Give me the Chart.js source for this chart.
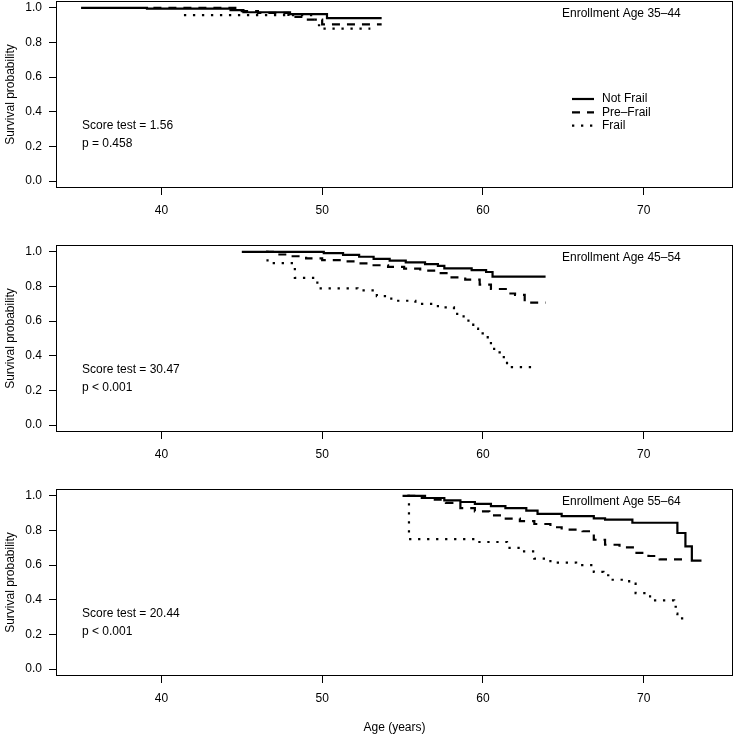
<!DOCTYPE html>
<html><head><meta charset="utf-8">
<script src="https://cdn.jsdelivr.net/npm/chart.js@4.4.0/dist/chart.umd.min.js"></script>
<style>
html,body{margin:0;padding:0;background:#fff;}
#wrap{position:relative;width:734px;height:735px;overflow:hidden;background:#fff;}
canvas{position:absolute;left:0;}
</style></head><body>
<div id="wrap">
<canvas id="c1" width="734" height="244" style="top:0px;width:734px;height:244px"></canvas>
<canvas id="c2" width="734" height="244" style="top:244px;width:734px;height:244px"></canvas>
<canvas id="c3" width="734" height="247" style="top:488px;width:734px;height:247px"></canvas>
</div>
<script>
// ---------- data ----------
const seriesLabels = ['Not Frail', 'Pre\u2013Frail', 'Frail'];
const panelLabels = ['Enrollment Age 35\u201344', 'Enrollment Age 45\u201354', 'Enrollment Age 55\u201364'];
const scoreTexts = ['Score test = 1.56', 'Score test = 30.47', 'Score test = 20.44'];
const pTexts = ['p = 0.458', 'p < 0.001', 'p < 0.001'];
const xTickValues = [40, 50, 60, 70];
const yTickValues = [0, 0.2, 0.4, 0.6, 0.8, 1.0];
const xRange = [33.44, 75.56];
const yRange = [-0.04, 1.04];

// [age, survival] — Kaplan–Meier steps
const notFrail1 = [[35,1],[39.1,0.996],[44.3,0.987],[45.1,0.975],[48.0,0.964],[50.3,0.941],[53.7,0.941]];
const preFrail1 = [[39.5,1],[45.0,0.981],[46.0,0.971],[47.9,0.948],[48.7,0.933],[50.0,0.905],[53.7,0.905]];
const frail1    = [[41.4,0.958],[49.6,0.90],[50.0,0.88],[53.0,0.88]];

const notFrail2 = [[45,1],[50.1,0.993],[51.3,0.983],[52.3,0.972],[53.2,0.96],[54.2,0.95],[55.2,0.94],[56.4,0.93],[57.2,0.92],[57.6,0.905],[59.3,0.895],[60.2,0.884],[60.6,0.857],[63.9,0.857]];
const preFrail2 = [[46.5,1],[47.0,0.985],[48.0,0.975],[49.0,0.963],[50.0,0.953],[51.2,0.946],[52.1,0.934],[53.2,0.923],[54.1,0.914],[55.1,0.903],[56.1,0.892],[57.1,0.877],[57.9,0.853],[58.9,0.84],[59.8,0.811],[60.5,0.786],[61.6,0.76],[62.0,0.752],[62.6,0.707],[63.9,0.707]];
const frail2    = [[46.5,1],[46.6,0.935],[48.3,0.85],[49.7,0.79],[52.2,0.778],[53.4,0.745],[54.3,0.718],[55.8,0.70],[57.2,0.68],[58.2,0.662],[58.4,0.628],[58.8,0.618],[59.1,0.59],[59.4,0.557],[59.7,0.53],[60.3,0.493],[60.5,0.454],[60.7,0.42],[61.3,0.377],[61.5,0.335],[63.2,0.335]];

const notFrail3 = [[55,1],[56.4,0.988],[57.6,0.974],[58.6,0.965],[59.5,0.954],[60.5,0.941],[61.4,0.93],[62.7,0.915],[63.4,0.896],[64.9,0.883],[66.9,0.87],[67.6,0.863],[69.3,0.845],[72.1,0.786],[72.6,0.709],[73.0,0.626],[73.6,0.626]];
const preFrail3 = [[55.3,1],[56.2,0.988],[56.8,0.979],[57.7,0.96],[58.6,0.93],[59.5,0.911],[60.4,0.888],[61.3,0.869],[62.3,0.854],[63.2,0.838],[64.2,0.819],[64.9,0.805],[66.2,0.796],[66.9,0.747],[67.6,0.718],[68.5,0.703],[69.4,0.671],[70.3,0.653],[71.0,0.634],[72.8,0.634]];
const frail3    = [[55.3,1],[55.4,0.75],[59.7,0.734],[61.5,0.70],[62.3,0.68],[63.2,0.638],[64.2,0.615],[65.8,0.60],[66.9,0.561],[67.5,0.542],[67.8,0.516],[69.1,0.493],[69.5,0.439],[70.4,0.397],[71.9,0.36],[72.0,0.32],[72.1,0.293],[72.8,0.293]];

// ---------- style ----------
const FONT = '"Liberation Sans", Arial, Helvetica, sans-serif';
const dashes = [[], [8, 7], [2.3, 6.7]];
const LW = 2.2;

Chart.defaults.font.family = FONT;
Chart.defaults.font.size = 12;
Chart.defaults.color = '#000';

const decor = {
  id: 'panelDecor',
  afterDraw(chart, args, o) {
    const ctx = chart.ctx, a = chart.chartArea;
    ctx.save();
    ctx.strokeStyle = '#000'; ctx.lineWidth = 1; ctx.setLineDash([]);
    ctx.strokeRect(Math.round(a.left) + 0.5, Math.round(a.top) + 0.5, Math.round(a.right - a.left) - 1, Math.round(a.bottom - a.top) - 1);
    ctx.fillStyle = '#000';
    ctx.font = '12px ' + FONT;
    ctx.textBaseline = 'middle'; ctx.textAlign = 'left';
    ctx.fillText(o.label, a.left + 506, a.top + 12.3);
    ctx.fillText(o.score, a.left + 26, a.top + 124.5);
    ctx.fillText(o.p, a.left + 26, a.top + 142.3);
    if (o.legend) {
      seriesLabels.forEach((lab, i) => {
        const y = a.top + 98 + 13.3 * i;
        ctx.beginPath();
        ctx.lineWidth = LW; ctx.lineCap = 'butt';
        ctx.setLineDash(dashes[i]);
        ctx.moveTo(a.left + 516, y); ctx.lineTo(a.left + 538, y);
        ctx.stroke();
        ctx.setLineDash([]);
        ctx.fillText(lab, a.left + 546, y);
      });
    }
    ctx.restore();
  }
};

function makeChart(id, series, idx, isLast) {
  const canvasH = isLast ? 247 : 244;
  const gridCfg = {drawOnChartArea: false, drawTicks: true, tickLength: 7, color: '#000', lineWidth: 1};
  return new Chart(document.getElementById(id), {
    type: 'line',
    data: {
      datasets: series.map((s, i) => ({
        label: seriesLabels[i],
        data: s.map(([x, y]) => ({x, y})),
        stepped: 'before',
        borderColor: '#000',
        borderWidth: LW,
        borderDash: dashes[i],
        borderCapStyle: 'butt',
        pointRadius: 0,
        pointHoverRadius: 0,
        fill: false
      }))
    },
    options: {
      responsive: false,
      animation: false,
      events: [],
      layout: {padding: {top: 1, left: 0, right: 1, bottom: 0}},
      plugins: {
        legend: {display: false},
        tooltip: {enabled: false},
        panelDecor: {label: panelLabels[idx], score: scoreTexts[idx], p: pTexts[idx], legend: idx === 0}
      },
      scales: {
        x: {
          type: 'linear', min: xRange[0], max: xRange[1],
          afterBuildTicks: s => { s.ticks = xTickValues.map(v => ({value: v})); },
          afterFit: s => { s.height = canvasH - 188; s.paddingLeft = 0; s.paddingRight = 0; s.paddingTop = 0; s.paddingBottom = 0; },
          grid: gridCfg,
          border: {display: false},
          ticks: {padding: 8, color: '#000', maxRotation: 0, autoSkip: false, callback: v => String(v)},
          title: {display: isLast, text: 'Age (years)', color: '#000', padding: {top: 0, bottom: 0}}
        },
        y: {
          type: 'linear', min: yRange[0], max: yRange[1],
          afterBuildTicks: s => { s.ticks = yTickValues.map(v => ({value: v})); },
          afterFit: s => { s.width = 56; s.paddingLeft = 0; s.paddingRight = 0; s.paddingTop = 0; s.paddingBottom = 0; },
          grid: gridCfg,
          border: {display: false},
          ticks: {padding: 7, color: '#000', autoSkip: false, callback: v => Number(v).toFixed(1)},
          title: {display: true, text: 'Survival probability', color: '#000', padding: {top: 3, bottom: 0}}
        }
      }
    },
    plugins: [decor]
  });
}

makeChart('c1', [notFrail1, preFrail1, frail1], 0, false);
makeChart('c2', [notFrail2, preFrail2, frail2], 1, false);
makeChart('c3', [notFrail3, preFrail3, frail3], 2, true);
</script>
</body></html>
